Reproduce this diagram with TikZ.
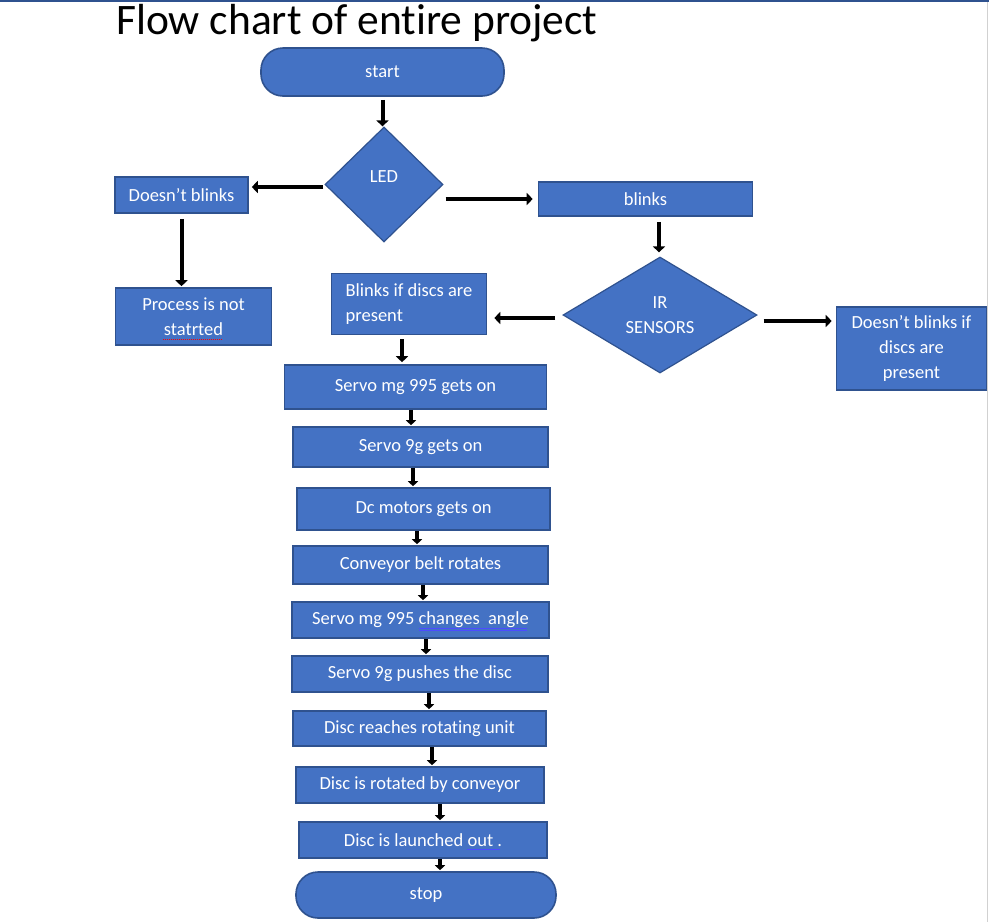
\documentclass[tikz,border=0pt]{standalone}
\usepackage{fontspec}
\setmainfont{Carlito}[Ligatures=NoCommon]
\usetikzlibrary{shapes.geometric, arrows.meta}

\definecolor{ofblue}{HTML}{4472C4}
\definecolor{ofedge}{HTML}{2F528F}

\tikzset{
  stepbox/.style={rectangle, draw=ofedge, line width=1.6pt, fill=ofblue, text=white,
    inner sep=0pt, align=center, font=\fontsize{18.5}{25}\selectfont},
  termbox/.style={stepbox, rounded corners=22pt},
  decbox/.style={stepbox, diamond, line width=1.2pt},
  arr/.style={line width=4pt, -{Triangle[length=6pt, width=12pt]}},
  arrs/.style={line width=3.4pt, -{Triangle[length=5pt, width=10pt]}}
}

\begin{document}
\begin{tikzpicture}[x=1pt, y=-1pt]
  % Frame
  \useasboundingbox (0,0) rectangle (989,922);
  \fill[ofedge] (0,0) rectangle (989,1.5);
  \fill[black!18] (986.5,1.5) rectangle (988,922);

  % Title
  \node[anchor=base west, inner sep=0pt, font=\fontsize{43.5}{45}\selectfont] (title) at (116,34) {Flow chart of entire project};

  % Top part
  \node[termbox, minimum width=243pt, minimum height=48pt] (start) at (382.5,72) {start};
  \node[decbox, minimum width=118pt, minimum height=115pt, text depth=16pt] (led) at (384,184.5) {LED};
  \node[stepbox, minimum width=133pt, minimum height=36pt] (nb) at (181.5,195) {Doesn’t blinks};
  \node[stepbox, minimum width=214pt, minimum height=34pt] (blinks) at (645.5,199) {blinks};
  \node[stepbox, minimum width=156pt, minimum height=57pt] (proc) at (193.5,316.5) {Process is not\\statrted};
  \node[decbox, minimum width=194pt, minimum height=116pt] (ir) at (660,315) {IR\\SENSORS};
  \node[stepbox, minimum width=155pt, minimum height=61pt, align=left] (bl) at (409,304) {Blinks if discs are\\present};
  \node[stepbox, minimum width=150pt, minimum height=83pt] (nbif) at (911.5,348.5) {Doesn’t blinks if\\discs are\\present};

  % Main column
  \node[stepbox, minimum width=262pt, minimum height=44pt] (s1) at (415.5,387) {Servo mg 995 gets on};
  \node[stepbox, minimum width=255pt, minimum height=40pt] (s2) at (420.5,447) {Servo 9g gets on};
  \node[stepbox, minimum width=253pt, minimum height=42pt] (s3) at (423.5,509) {Dc motors gets on};
  \node[stepbox, minimum width=255pt, minimum height=38pt] (s4) at (420.5,565) {Conveyor belt rotates};
  \node[stepbox, minimum width=257pt, minimum height=36pt] (s5) at (420.5,620) {Servo mg 995 changes\ \ angle};
  \node[stepbox, minimum width=256pt, minimum height=36pt] (s6) at (420,674) {Servo 9g pushes the disc};
  \node[stepbox, minimum width=253pt, minimum height=35pt] (s7) at (419.5,728.5) {Disc reaches rotating unit};
  \node[stepbox, minimum width=248pt, minimum height=36pt] (s8) at (420,785) {Disc is rotated by conveyor};
  \node[stepbox, minimum width=248pt, minimum height=36pt] (s9) at (423,840) {Disc is launched out .};
  \node[termbox, minimum width=260pt, minimum height=46pt] (stop) at (426,895) {stop};

  % Spell check marks
  \draw[red, densely dotted, line width=1pt] (163,339) -- (223,339);
  \draw[blue!70, line width=0.6pt] (419,628.5) -- (527,628.5) (419,630.5) -- (527,630.5);
  \draw[blue!70, line width=0.6pt] (467,849) -- (500,849);

  % Arrows
  \draw[arr, shorten <=3pt] (start.south) -- (start.south |- led.north);
  \draw[arr, shorten <=1pt, shorten >=3pt] (led.west |- 0,187) -- (nb.east |- 0,187);
  \draw[arr, shorten <=2pt, shorten >=5pt] (led.east |- blinks) -- (blinks.west);
  \draw[arr, shorten <=5pt, shorten >=4pt] (blinks.south -| 659,0) -- (ir.north -| 659,0);
  \draw[arr, shorten <=5pt, shorten >=1pt] (nb.south) -- (nb.south |- proc.north);
  \draw[arr, shorten <=7pt, shorten >=7pt] (ir.west |- 0,318) -- (bl.east |- 0,318);
  \draw[arr, shorten <=6pt, shorten >=4pt] (ir.east |- 0,321) -- (nbif.west |- 0,321);
  \draw[arr, shorten <=4pt, shorten >=2pt] (bl.south -| 402,0) -- (s1.north -| 402,0);

  % Main column arrows
  \foreach \a/\b/\x in {s1/s2/411, s2/s3/413, s3/s4/417, s4/s5/423, s5/s6/426,
                        s6/s7/429, s7/s8/432, s8/s9/440, s9/stop/440} {
      \draw[arrs, shorten >=1pt] (\a.south -| \x,0) -- (\b.north -| \x,0);
  }

\end{tikzpicture}
\end{document}
